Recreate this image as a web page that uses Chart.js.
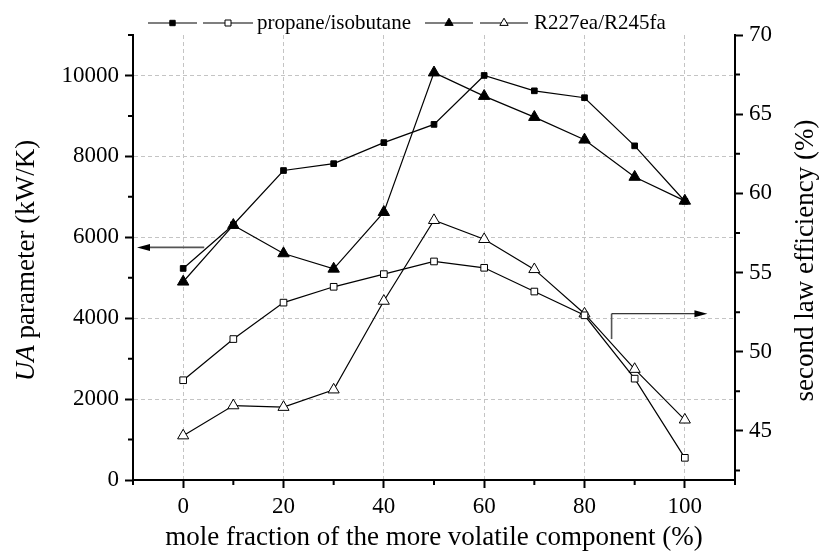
<!DOCTYPE html>
<html>
<head>
<meta charset="utf-8">
<script src="https://cdn.jsdelivr.net/npm/chart.js@4.4.1/dist/chart.umd.min.js"></script>
<style>
  html, body { margin: 0; padding: 0; background: #fff; }
  #chart { display: block; }
</style>
</head>
<body>
<canvas id="chart" width="821" height="553"></canvas>
<script>
// mole fraction of the more volatile component (%)
const molFraction = [0, 10, 20, 30, 40, 50, 60, 70, 80, 90, 100];

// UA parameter (kW/K), left axis
const uaPropane = [5230, 6310, 7650, 7820, 8340, 8790, 10000, 9620, 9450, 8260, 6890];
const uaR227 = [4900, 6300, 5600, 5220, 6620, 10070, 9490, 8970, 8410, 7490, 6900];

// second law efficiency (%), right axis
const effPropane = [48.2, 50.8, 53.1, 54.1, 54.9, 55.7, 55.3, 53.8, 52.3, 48.3, 43.3];
const effR227 = [44.7, 46.6, 46.5, 47.6, 53.2, 58.3, 57.1, 55.2, 52.4, 48.9, 45.7];

const xTicks = [0, 20, 40, 60, 80, 100];
const xMinorTicks = [-10, 10, 30, 50, 70, 90, 110];
const uaTicks = [0, 2000, 4000, 6000, 8000, 10000];
const uaMinorTicks = [1000, 3000, 5000, 7000, 9000, 11000];
const effTicks = [45, 50, 55, 60, 65, 70];
const effMinorTicks = [42.5, 47.5, 52.5, 57.5, 62.5, 67.5];

// arrows pointing each pair of curves at its axis (data coordinates)
const leftArrow = { x0: 4.2, x1: -9.2, ua: 5750 };
const rightArrow = { x: 85.4, effLow: 50.8, effHigh: 52.4, xTip: 104.5 };

const FONT = '"Liberation Serif", "Times New Roman", serif';

const toPoints = (ys) => molFraction.map((x, i) => ({ x, y: ys[i] }));

function series(label, ys, axis, style, filled, radius) {
  return {
    label,
    data: toPoints(ys),
    yAxisID: axis,
    borderColor: '#000',
    borderWidth: 1.2,
    pointStyle: style,
    pointRadius: radius,
    pointBackgroundColor: filled ? '#000' : '#fff',
    pointBorderColor: '#000',
    pointBorderWidth: 1,
    tension: 0,
    fill: false
  };
}

function marker(ctx, kind, x, y, size, filled) {
  ctx.beginPath();
  if (kind === 'rect') {
    ctx.rect(x - size, y - size, size * 2, size * 2);
  } else {
    ctx.moveTo(x, y - size);
    ctx.lineTo(x + size * 0.866, y + size * 0.5);
    ctx.lineTo(x - size * 0.866, y + size * 0.5);
    ctx.closePath();
  }
  ctx.fillStyle = filled ? '#000' : '#fff';
  ctx.fill();
  ctx.lineWidth = 1;
  ctx.strokeStyle = '#000';
  ctx.stroke();
}

function arrowHead(ctx, x, y, dir) {
  ctx.beginPath();
  ctx.moveTo(x, y);
  ctx.lineTo(x - dir * 13, y - 3.5);
  ctx.lineTo(x - dir * 13, y + 3.5);
  ctx.closePath();
  ctx.fillStyle = '#000';
  ctx.fill();
}

const decorations = {
  id: 'decorations',
  afterDraw(chart) {
    const { ctx, scales: { x, y, y1 }, chartArea } = chart;
    ctx.save();

    // minor ticks
    ctx.strokeStyle = '#000';
    ctx.lineWidth = 2;
    ctx.beginPath();
    xMinorTicks.forEach((v) => {
      const px = x.getPixelForValue(v);
      ctx.moveTo(px, chartArea.bottom);
      ctx.lineTo(px, chartArea.bottom + 5);
    });
    uaMinorTicks.forEach((v) => {
      const py = y.getPixelForValue(v);
      ctx.moveTo(chartArea.left, py);
      ctx.lineTo(chartArea.left - 5, py);
    });
    effMinorTicks.forEach((v) => {
      const py = y1.getPixelForValue(v);
      ctx.moveTo(chartArea.right, py);
      ctx.lineTo(chartArea.right + 5, py);
    });
    ctx.stroke();

    // arrows
    const ly = y.getPixelForValue(leftArrow.ua);
    const lx0 = x.getPixelForValue(leftArrow.x0);
    const lx1 = x.getPixelForValue(leftArrow.x1);
    ctx.strokeStyle = '#555';
    ctx.lineWidth = 1.6;
    ctx.beginPath();
    ctx.moveTo(lx0, ly);
    ctx.lineTo(lx1 + 10, ly);
    ctx.stroke();
    arrowHead(ctx, lx1, ly, -1);

    const rx = x.getPixelForValue(rightArrow.x);
    const ryLow = y1.getPixelForValue(rightArrow.effLow);
    const ryHigh = y1.getPixelForValue(rightArrow.effHigh);
    const rxTip = x.getPixelForValue(rightArrow.xTip);
    ctx.strokeStyle = '#555';
    ctx.lineWidth = 1.6;
    ctx.beginPath();
    ctx.moveTo(rx, ryLow);
    ctx.lineTo(rx, ryHigh);
    ctx.stroke();
    ctx.strokeStyle = '#000';
    ctx.lineWidth = 1;
    ctx.beginPath();
    ctx.moveTo(rx, ryHigh);
    ctx.lineTo(rxTip - 10, ryHigh);
    ctx.stroke();
    arrowHead(ctx, rxTip, ryHigh, 1);

    // axis titles on the y axes (both read bottom to top)
    const midY = (chartArea.top + chartArea.bottom) / 2 + 3;
    ctx.fillStyle = '#000';
    ctx.textBaseline = 'middle';
    ctx.textAlign = 'left';

    ctx.save();
    ctx.translate(27, midY);
    ctx.rotate(-Math.PI / 2);
    const italic = 'italic 27px ' + FONT;
    const normal = '27px ' + FONT;
    ctx.font = italic;
    const w1 = ctx.measureText('UA').width;
    ctx.font = normal;
    const w2 = ctx.measureText(' parameter (kW/K)').width;
    const start = -(w1 + w2) / 2;
    ctx.font = italic;
    ctx.fillText('UA', start, 0);
    ctx.font = normal;
    ctx.fillText(' parameter (kW/K)', start + w1, 0);
    ctx.restore();

    ctx.save();
    ctx.translate(806, midY);
    ctx.rotate(-Math.PI / 2);
    ctx.font = normal;
    ctx.textAlign = 'center';
    ctx.fillText('second law efficiency (%)', 0, 0);
    ctx.restore();

    // legend
    const ly0 = 23;
    const samples = [
      { x0: 148, x1: 197, kind: 'rect', size: 2.7, filled: true },
      { x0: 203, x1: 253, kind: 'rect', size: 3, filled: false },
      { x0: 425, x1: 473, kind: 'tri', size: 4.8, filled: true },
      { x0: 480, x1: 528, kind: 'tri', size: 4.8, filled: false }
    ];
    samples.forEach((s) => {
      ctx.strokeStyle = '#000';
      ctx.lineWidth = 1.2;
      ctx.beginPath();
      ctx.moveTo(s.x0, ly0);
      ctx.lineTo(s.x1, ly0);
      ctx.stroke();
      marker(ctx, s.kind, (s.x0 + s.x1) / 2, ly0, s.size, s.filled);
    });
    ctx.fillStyle = '#000';
    ctx.font = '21px ' + FONT;
    ctx.textAlign = 'left';
    ctx.textBaseline = 'middle';
    ctx.fillText('propane/isobutane', 257, ly0);
    ctx.fillText('R227ea/R245fa', 534, ly0);

    ctx.restore();
  }
};

const tickFont = { family: FONT, size: 23 };
const plainLabel = (v) => String(v);

new Chart(document.getElementById('chart'), {
  type: 'line',
  data: {
    datasets: [
      series('propane/isobutane UA', uaPropane, 'y', 'rect', true, 4),
      series('propane/isobutane efficiency', effPropane, 'y1', 'rect', false, 4.7),
      series('R227ea/R245fa UA', uaR227, 'y', 'triangle', true, 6.6),
      series('R227ea/R245fa efficiency', effR227, 'y1', 'triangle', false, 6.4)
    ]
  },
  options: {
    responsive: false,
    animation: false,
    layout: { padding: { top: 35, left: 0, right: 0, bottom: 0 } },
    plugins: { legend: { display: false }, tooltip: { enabled: false } },
    scales: {
      x: {
        type: 'linear',
        min: -10,
        max: 110,
        afterBuildTicks: (s) => { s.ticks = xTicks.map((v) => ({ value: v })); },
        afterFit: (s) => { s.height = 73; },
        ticks: { font: tickFont, color: '#000', padding: 5, maxRotation: 0, callback: plainLabel },
        grid: { color: '#c4c4c4', lineWidth: 1, tickColor: '#000', tickWidth: 2, tickLength: 8 },
        border: { display: true, color: '#000', width: 2, dash: [4, 3] },
        title: {
          display: true,
          text: 'mole fraction of the more volatile component (%)',
          font: { family: FONT, size: 27, lineHeight: 1.1 },
          color: '#000',
          padding: { top: 0, bottom: 0 }
        }
      },
      y: {
        type: 'linear',
        position: 'left',
        min: 0,
        max: 11000,
        afterBuildTicks: (s) => { s.ticks = uaTicks.map((v) => ({ value: v })); },
        afterFit: (s) => { s.width = 133; },
        ticks: { font: tickFont, color: '#000', padding: 6, callback: plainLabel },
        grid: { color: '#c4c4c4', lineWidth: 1, tickColor: '#000', tickWidth: 2, tickLength: 8 },
        border: { display: true, color: '#000', width: 2, dash: [4, 3] }
      },
      y1: {
        type: 'linear',
        position: 'right',
        min: 41.9,
        max: 70,
        afterBuildTicks: (s) => { s.ticks = effTicks.map((v) => ({ value: v })); },
        afterFit: (s) => { s.width = 86; },
        ticks: { font: tickFont, color: '#000', padding: 6, callback: plainLabel },
        grid: { drawOnChartArea: false, tickColor: '#000', tickWidth: 2, tickLength: 8 },
        border: { display: true, color: '#000', width: 2 }
      }
    }
  },
  plugins: [decorations]
});
</script>
</body>
</html>
